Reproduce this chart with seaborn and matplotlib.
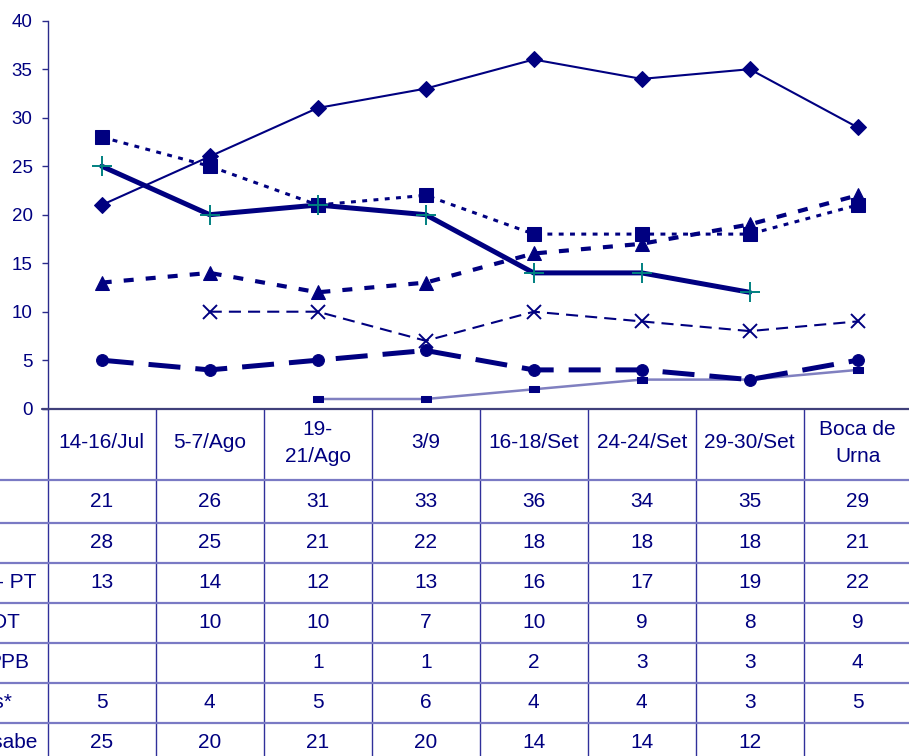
import numpy as np
import pandas as pd
import seaborn as sns
import matplotlib.pyplot as plt
from matplotlib import transforms

# data
periods = ["14-16/Jul", "5-7/Ago", "19-\n21/Ago", "3/9", "16-18/Set",
           "24-24/Set", "29-30/Set", "Boca de\nUrna"]
s_diamond = [21, 26, 31, 33, 36, 34, 35, 29]
s_square = [28, 25, 21, 22, 18, 18, 18, 21]
s_pt = [13, 14, 12, 13, 16, 17, 19, 22]
s_pdt = [np.nan, 10, 10, 7, 10, 9, 8, 9]
s_ppb = [np.nan, np.nan, 1, 1, 2, 3, 3, 4]
s_outros = [5, 4, 5, 6, 4, 4, 3, 5]
s_naosabe = [25, 20, 21, 20, 14, 14, 12, np.nan]
row_labels = ["", "", "- PT", "PDT", "PPB", "Outros*", "Não sabe"]

NAVY = "#000080"
W, H = 909, 756

sns.set_style("white")
plt.rcParams["font.family"] = ["Liberation Sans", "DejaVu Sans"]

fig = plt.figure(figsize=(W / 100, H / 100), dpi=100)
ax_l, ax_r, ax_t, ax_b = 47.7, 911.7, 20.7, 408.7
ax = fig.add_axes([ax_l / W, 1 - ax_b / H, (ax_r - ax_l) / W, (ax_b - ax_t) / H])

df = pd.DataFrame({"x": np.arange(len(periods))})
rect = [(-1, -0.55), (1, -0.55), (1, 0.55), (-1, 0.55), (-1, -0.55)]

styles = [
    (s_diamond, dict(marker="D", ms=8.0, lw=1.5, ls="-", color=NAVY, mfc=NAVY, mec=NAVY)),
    (s_square, dict(marker="s", ms=9.5, lw=2.2, ls=(0, (1.6, 2.1)), color=NAVY, mfc=NAVY, mec=NAVY)),
    (s_pt, dict(marker="^", ms=10, lw=3.0, ls=(0, (2.4, 2.9)), color=NAVY, mfc=NAVY, mec=NAVY)),
    (s_pdt, dict(marker="x", ms=9.5, mew=1.4, lw=1.5, ls=(0, (5.8, 3.4)), color=NAVY, mfc=NAVY, mec=NAVY)),
    (s_ppb, dict(marker=rect, ms=7, lw=1.8, ls="-", color="#8080c0", mfc=NAVY, mec=NAVY)),
    (s_outros, dict(marker="o", ms=8.5, lw=3.6, ls=(0, (6.4, 3.0)), color=NAVY, mfc=NAVY, mec=NAVY)),
    (s_naosabe, dict(marker="+", ms=15, mew=1.4, lw=3.6, ls="-", color=NAVY, mfc="#008080", mec="#008080")),
]
for vals, kw in styles:
    d = df.assign(y=vals).dropna()
    sns.lineplot(data=d, x="x", y="y", ax=ax, sort=False, clip_on=False, **kw)

ax.set_xlim(-0.5, len(periods) - 0.5)
ax.set_ylim(0, 40)
ax.set_yticks(range(0, 41, 5))
ax.set_xticks([])
ax.set_xlabel("")
ax.set_ylabel("")
for side in ["top", "right", "bottom"]:
    ax.spines[side].set_visible(False)
ax.spines["left"].set_color("#2a2a8a")
ax.spines["left"].set_linewidth(1.0)
ax.tick_params(axis="y", direction="out", length=4.3, width=1.0, color="#2a2a8a",
               labelcolor=NAVY, labelsize=13.5, pad=6.5, left=True)

# data table below the plot
tr = transforms.blended_transform_factory(ax.transData, fig.transFigure)
fy = lambda px: 1 - px / H
n = len(periods)
xmin, xmax = -0.5, n - 0.5
row_edges = [480.3, 522.7, 562.7, 602.7, 642.7, 682.7, 722.7]

for yy in row_edges:
    fig.add_artist(plt.Line2D([0, 1], [fy(yy), fy(yy)], transform=fig.transFigure,
                              color="#7a7ac4", lw=1.6))
for k in range(n + 1):
    ax.plot([xmin + k, xmin + k], [fy(ax_b), fy(H + 5)], transform=tr, color="#30309a",
            lw=1.0, clip_on=False)
fig.add_artist(plt.Line2D([ax_l / W - 0.006, 1], [fy(ax_b), fy(ax_b)], transform=fig.transFigure,
                          color="#40407a", lw=1.6))

for i, lab in enumerate(periods):
    ax.text(i, fy(443), lab, transform=tr, ha="center", va="center", fontsize=15,
            color=NAVY, linespacing=1.55)

table_rows = [s_diamond, s_square, s_pt, s_pdt, s_ppb, s_outros, s_naosabe]
row_centers = [(a + b) / 2 for a, b in zip(row_edges, row_edges[1:] + [762.7])]
for r, vals in enumerate(table_rows):
    for i, v in enumerate(vals):
        if not np.isnan(v):
            ax.text(i, fy(row_centers[r]), f"{int(v)}", transform=tr, ha="center",
                    va="center", fontsize=15, color=NAVY)

label_right = [0, 0, 36, 20, 29, 12, 37]
for r, lab in enumerate(row_labels):
    if lab:
        fig.text(label_right[r] / W, fy(row_centers[r]), lab, ha="right", va="center",
                 fontsize=15, color=NAVY)

fig.savefig("out.png", dpi=100)
